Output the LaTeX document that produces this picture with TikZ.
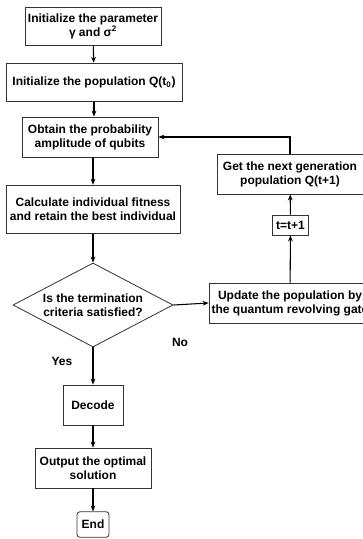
\documentclass[tikz,border=0pt]{standalone}
\usepackage{fontspec}
\setmainfont{Liberation Sans}
\usetikzlibrary{shapes.geometric,arrows.meta}

\begin{document}
\begin{tikzpicture}[x=0.75pt, y=-0.75pt,
		box/.style={draw=black!80, line width=0.6pt, align=center, inner sep=1pt, font=\fontsize{9}{10.5}\selectfont\bfseries},
		arr/.style={draw=black, line width=0.8pt, -{Stealth[length=4.5pt,width=3.5pt]}},
		lbl/.style={font=\fontsize{9}{10.5}\selectfont\bfseries}]
		\fill[white] (0,0) rectangle (363,539);
		\useasboundingbox (0,0) rectangle (363,539);
		
		\node[box, minimum width=102pt, minimum height=29pt] (init) at (93,26.5) {Initialize the parameter\\ γ and σ\textsuperscript{2}};
		\node[box, minimum width=132pt, minimum height=29pt] (pop) at (94,82.5) {Initialize the population Q(t\textsubscript{0})};
		\node[box, minimum width=102pt, minimum height=30pt] (amp) at (90,137) {Obtain the probability\\ amplitude of qubits};
		\node[box, minimum width=130.5pt, minimum height=36.5pt] (fit) at (93,209.5) {Calculate individual fitness\\ and retain the best individual};
		\node[box, diamond, aspect=1.9, inner sep=0pt, minimum width=120pt, minimum height=63pt] (term) at (93,305) {Is the termination\\ criteria satisfied?};
		\node[box, minimum width=45pt, minimum height=30pt] (decode) at (93,405) {Decode};
		\node[box, minimum width=87pt, minimum height=30pt] (out) at (93,468) {Output the optimal\\ solution};
		\node[box, rounded corners=2pt, minimum width=24pt, minimum height=19pt] (end) at (93,524.5) {End};
		
		\node[box, minimum width=109.5pt, minimum height=30pt] (next) at (290,174) {Get the next generation\\ population Q(t+1)};
		\node[box, minimum width=27.5pt, minimum height=15pt] (tinc) at (290.5,225) {t=t+1};
		\node[box, minimum width=121.5pt, minimum height=30pt] (upd) at (290,303) {Update the population by\\ the quantum revolving gate};
		
		\node[lbl] (yes) at (62,361) {Yes};
		\node[lbl] (no) at (180,342) {No};
		
		\draw[arr] (init) -- (pop);
		\draw[arr] (pop.south) -- (pop.south |- amp.north);
		\draw[arr] (amp.south -| fit.north) -- (fit.north);
		\draw[arr] (fit) -- (term);
		\draw[arr] (term) -- (decode);
		\draw[arr] (decode) -- (out);
		\draw[arr] (out) -- (end);
		\draw[arr] (term.east) -- (upd.west);
		\draw[arr] (upd) -- (tinc);
		\draw[arr] (tinc) -- (next);
		\draw[arr] (next.north) |- (amp.east);
		
\end{tikzpicture}
\end{document}
